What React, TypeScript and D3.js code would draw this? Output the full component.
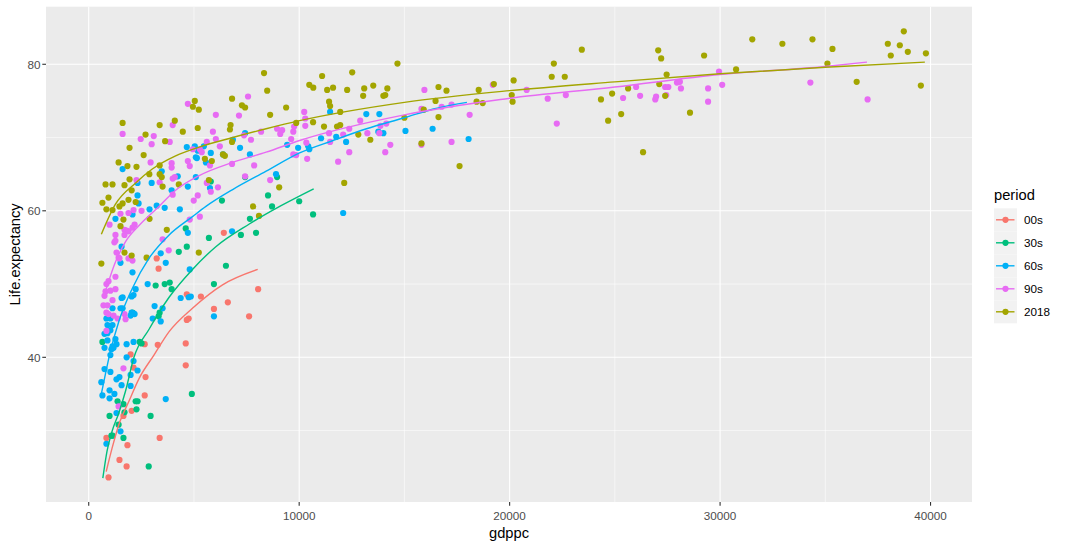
import * as d3 from "d3";

// period order as it is shown in the legend
const periods = ["00s", "30s", "60s", "90s", "2018"];
const periodColors = ["#F8766D", "#00BF7D", "#00B0F6", "#E76BF3", "#A3A500"];

// [gdppc, Life.expectancy]
const pts00s: [number, number][] = [
  [6420, 57.0], [3230, 53.5], [3320, 52.1], [4660, 48.6], [5330, 48.3], [6610, 47.5], [8050, 49.3],
  [5950, 46.6], [7620, 45.6], [4660, 45.1], [4750, 45.3], [4610, 41.9], [3280, 41.7], [2660, 41.8],
  [1990, 40.4], [4610, 38.9], [2130, 38.6], [2700, 37.3], [2660, 34.8], [2040, 32.7], [1650, 32.0],
  [840, 29.0], [3370, 29.0], [1840, 28.0], [1460, 26.0], [1800, 25.1], [940, 23.6],
];

const pts30s: [number, number][] = [
  [7430, 64.6], [8950, 64.6], [5800, 64.0], [6330, 61.4], [8520, 62.1], [8710, 60.6], [10000, 61.3],
  [7660, 58.9], [7230, 56.7], [7950, 57.0], [5710, 56.3], [4610, 57.6], [4660, 55.1], [4280, 54.4],
  [6520, 52.5], [5950, 50.0], [3850, 50.2], [3610, 50.0], [3180, 49.8], [3940, 49.3], [2080, 46.1],
  [3370, 46.1], [3320, 45.6], [650, 42.1], [2420, 42.1], [2510, 41.9], [4900, 35.0], [1370, 34.0],
  [1650, 33.6], [2230, 34.0], [2320, 34.0], [2270, 32.9], [2940, 32.0], [990, 32.0], [1700, 32.5],
  [1080, 29.3], [1130, 29.3], [1650, 29.0], [2850, 25.1], [1420, 30.8], [10660, 59.5],
];

const pts60s: [number, number][] = [
  [4660, 68.7], [5040, 68.8], [5180, 68.2], [5470, 68.8], [6850, 69.7], [7190, 68.6], [7430, 70.6],
  [7660, 67.7], [6380, 67.7], [5800, 67.9], [5090, 67.3], [5140, 67.2], [5570, 66.6], [1610, 65.7],
  [3470, 65.4], [4230, 64.7], [5090, 64.6], [2320, 63.8], [2990, 63.8], [4710, 63.3], [5760, 63.1],
  [3940, 62.8], [2320, 62.1], [2370, 61.0], [3230, 60.7], [3610, 60.4], [4330, 60.2], [2890, 60.2],
  [8900, 65.0], [9430, 69.0], [9950, 68.6], [10430, 68.8], [10480, 68.4],
  [1270, 58.9], [2080, 59.5], [4710, 57.0], [6810, 57.2], [1560, 55.1], [3420, 54.2], [1510, 52.9],
  [3660, 52.9], [2080, 51.6], [2800, 50.0], [4800, 52.0], [2230, 49.3], [1560, 48.1], [1610, 48.2],
  [2040, 48.3], [2130, 48.5], [1130, 46.7], [1510, 46.7], [1610, 46.7], [3130, 47.0], [3510, 46.7],
  [4370, 48.1], [4750, 48.2], [4850, 48.3], [2040, 46.1], [2130, 46.0], [1990, 45.7], [2180, 45.9],
  [3040, 45.3], [3420, 44.9], [5950, 45.6], [1030, 45.3], [840, 45.3], [890, 44.4], [1130, 44.4],
  [1030, 43.7], [750, 43.2], [890, 43.3], [1270, 42.5], [1320, 41.8], [890, 42.3], [1130, 41.5],
  [1180, 41.3], [1080, 41.1], [750, 41.3], [1800, 41.8], [2130, 42.1], [1030, 40.3], [1800, 40.0],
  [2130, 39.5], [750, 38.4], [1030, 38.0], [2320, 38.2], [1990, 37.6], [1320, 37.0], [1460, 37.3],
  [600, 36.6], [1560, 36.2], [1990, 36.1], [990, 35.5], [1220, 35.0], [650, 34.8], [990, 34.4],
  [3660, 34.3], [1320, 32.4], [1510, 29.9], [840, 28.2],
  [11470, 73.5], [13190, 73.2], [13810, 73.2], [11040, 69.9], [11760, 70.1], [12230, 69.4],
  [13760, 70.8], [14000, 70.6], [15050, 70.9], [16340, 71.2], [18050, 69.8], [12090, 59.7],
];

const pts90s: [number, number][] = [
  [7570, 75.6], [4710, 74.6], [6040, 73.1], [7140, 73.0], [3990, 71.7], [1610, 70.5], [3090, 70.2],
  [2470, 69.8], [2990, 69.1], [3850, 69.4], [5900, 70.8], [6040, 69.8], [6230, 68.8], [7380, 70.3],
  [7710, 69.7], [8190, 70.8], [8950, 71.2], [9190, 71.0], [9100, 70.5], [9620, 69.8], [9720, 70.8],
  [9760, 71.5], [10240, 73.5], [10290, 71.6], [10290, 72.6], [10340, 69.3], [10380, 67.1], [9720, 67.7],
  [9860, 67.6], [2940, 66.6], [3940, 66.5], [3940, 65.9], [4710, 66.8], [4800, 66.1], [5370, 68.0],
  [5280, 68.4], [5610, 69.4], [4950, 68.4], [5760, 66.2], [6810, 66.4], [7860, 66.2], [2270, 64.2],
  [3370, 63.9], [4090, 64.6], [3990, 64.4], [5610, 63.8], [5180, 62.1], [4990, 61.4], [5800, 62.6],
  [6140, 63.2], [3990, 62.2], [7430, 64.7], [8620, 64.2], [2130, 60.1], [2510, 60.0],
  [1890, 59.7], [1510, 59.6], [990, 58.1], [1700, 57.4], [1800, 57.3], [1890, 57.2], [2180, 58.1],
  [2080, 57.7], [1700, 56.7], [1270, 56.7], [1220, 55.7], [1270, 55.9], [1320, 54.3], [1420, 53.6],
  [1460, 53.5], [1890, 53.5], [2080, 53.2], [3510, 56.1], [3800, 54.6], [4800, 58.8], [5280, 59.2],
  [1270, 51.0], [940, 50.4], [840, 50.0], [800, 49.0], [750, 48.4], [1030, 49.1], [1270, 49.3],
  [1130, 47.8], [700, 47.1], [890, 47.1], [840, 46.1], [940, 45.9], [1180, 45.7], [1370, 45.3],
  [1700, 45.9], [1750, 45.2], [840, 43.6], [1650, 38.5], [1420, 33.3],
  [15950, 76.5], [15810, 73.9], [16770, 74.2], [17240, 74.5], [18100, 73.1], [19200, 77.2],
  [12900, 72.3], [14140, 71.9], [13860, 71.6], [13810, 70.6], [13240, 70.6], [12380, 71.2],
  [12090, 70.4], [11420, 70.6], [11470, 69.4], [12380, 68.0], [11850, 66.7], [14090, 68.0],
  [14330, 69.0], [15810, 69.0], [17240, 69.4],
  [20810, 76.5], [21810, 75.3], [22240, 71.9], [22670, 75.8], [25390, 75.4], [26010, 76.9],
  [26200, 75.7], [26920, 75.2], [26960, 75.6], [27390, 76.9], [27540, 76.9], [27440, 75.8],
  [27950, 77.5], [28090, 77.6], [28140, 76.7], [29430, 76.7], [29430, 74.9], [29950, 79.0],
  [30100, 77.2], [34290, 77.5], [37010, 75.2],
];

const pts2018: [number, number][] = [
  [8330, 78.8], [8480, 76.4], [6810, 75.3], [5040, 75.0], [4950, 74.2], [5230, 73.8], [7280, 74.4],
  [7430, 74.1], [9380, 74.1], [10480, 77.2], [10670, 76.8], [8620, 73.1], [1610, 72.0], [3370, 71.7],
  [4090, 72.3], [4470, 70.8], [5180, 71.3], [6740, 71.7], [6710, 71.1], [2700, 70.4], [3630, 69.5],
  [6810, 69.4], [1940, 68.6], [2610, 67.6], [1420, 66.6], [1840, 66.1], [2270, 66.0], [3370, 66.2],
  [5520, 67.1], [5850, 66.8], [6380, 67.7], [6470, 67.5], [2880, 65.0], [3370, 65.0], [3470, 64.6],
  [1940, 64.3], [2040, 62.8], [1700, 63.5], [800, 63.6], [1130, 63.6], [3510, 63.3], [4280, 63.6],
  [5710, 64.2], [9050, 63.2], [940, 61.8], [650, 61.1], [1610, 61.0], [1890, 61.5], [2230, 61.2],
  [1460, 60.6], [840, 60.2], [1130, 60.1], [7810, 60.6], [9860, 72.0],
  [1650, 58.8], [1510, 57.9], [2890, 58.9], [3710, 57.4], [2040, 53.9], [1700, 54.3], [2750, 53.6],
  [600, 52.8], [5230, 54.3], [8090, 59.3],
  [14670, 80.1], [11090, 78.4], [12520, 78.9], [11330, 76.5], [11610, 76.8], [12280, 76.5],
  [13090, 76.7], [13520, 77.1], [14190, 76.7], [13040, 75.7], [14000, 75.7], [14090, 75.8],
  [11420, 74.9], [11470, 74.3], [11950, 73.5], [10660, 72.1], [11180, 71.5], [11800, 71.5],
  [11950, 71.7], [12810, 70.4], [13380, 69.7], [12140, 63.8], [15810, 69.2], [16620, 76.9],
  [17000, 76.4], [16480, 75.0], [16620, 72.8], [15920, 73.8], [17620, 66.1], [18530, 76.5],
  [18430, 74.9], [18720, 74.7], [19250, 77.3], [15000, 72.7],
  [23430, 82.0], [22100, 80.1], [22000, 78.3], [22620, 78.3], [20190, 77.8], [20100, 75.8],
  [20140, 74.9], [24340, 75.2], [24870, 76.0], [25630, 76.7], [24680, 72.3], [25300, 73.2],
  [26340, 68.0], [27060, 81.9], [27200, 80.8], [27460, 78.6], [27110, 77.3], [27390, 75.7],
  [31530, 83.4], [32960, 82.8], [34390, 83.4], [35340, 82.1], [29240, 81.2], [28570, 73.4],
  [30760, 79.3], [36490, 77.6], [37970, 82.8], [38110, 81.2], [38540, 82.6], [38730, 84.5],
  [38920, 81.7], [39540, 77.1], [39780, 81.5], [35100, 80.1],
];

// smoothed trend lines
const fit00s: [number, number][] = [
  [830, 24.4], [1110, 27.6], [1430, 30.8], [1910, 34.0], [2390, 37.1], [3100, 40.3],
  [3820, 43.5], [4930, 46.7], [6360, 49.9], [8030, 52.0],
];
const fit30s: [number, number][] = [
  [670, 23.5], [870, 27.2], [1110, 29.9], [1430, 32.4], [1750, 35.4], [2150, 40.0],
  [2860, 43.8], [3820, 48.2], [4930, 52.0], [6040, 55.1], [7630, 58.2], [9140, 60.7], [10690, 63.0],
];
const fit60s: [number, number][] = [
  [600, 35.0], [800, 37.8], [1030, 40.8], [1430, 44.9], [2070, 49.4], [2860, 53.5],
  [3820, 56.7], [4930, 59.2], [5570, 60.6], [6840, 62.9], [8430, 65.4], [10020, 67.9],
  [11610, 69.6], [13200, 71.2], [15000, 72.7], [16380, 73.9], [17970, 74.8],
];
const fit90s: [number, number][] = [
  [700, 48.1], [1270, 53.0], [1750, 55.8], [2390, 58.0], [3340, 60.6], [4130, 62.8],
  [5250, 64.8], [6840, 66.6], [8430, 68.0], [10020, 69.6], [15000, 73.1], [19560, 75.2],
  [25000, 76.9], [30000, 78.6], [35000, 79.7], [36980, 80.3],
];
const fit2018: [number, number][] = [
  [600, 56.8], [1270, 60.9], [2230, 63.8], [3020, 65.7], [4130, 67.5], [5250, 68.7],
  [6840, 70.0], [8430, 71.2], [10020, 72.3], [15000, 74.8], [20000, 76.4], [25000, 77.6],
  [30000, 78.7], [35000, 79.6], [39730, 80.3],
];

const xMajor = [0, 10000, 20000, 30000, 40000];
const xMinor = [5000, 15000, 25000, 35000];
const yMajor = [40, 60, 80];
const yMinor = [30, 50, 70];

const seriesPoints = [pts00s, pts30s, pts60s, pts90s, pts2018];
const seriesFits = [fit00s, fit30s, fit60s, fit90s, fit2018];

export default function App() {
  const width = 1067;
  const height = 548;
  const panel = { left: 46, right: 972, top: 6.7, bottom: 502 };

  const x = d3.scaleLinear().domain([-2030, 41970]).range([panel.left, panel.right]);
  const y = d3.scaleLinear().domain([20.25, 87.86]).range([panel.bottom, panel.top]);

  const line = d3.line<[number, number]>()
    .x(d => x(d[0]))
    .y(d => y(d[1]))
    .curve(d3.curveMonotoneX);

  const font = "'Liberation Sans', Arial, sans-serif";
  const legendX = 994;
  const keyTop = 208.3;
  const keyH = 23;

  return (
    <svg
      width={width}
      height={height}
      style={{ position: "absolute", left: 0, top: 0, background: "#fff" }}
      fontFamily={font}
    >
      <rect x={panel.left} y={panel.top} width={panel.right - panel.left}
        height={panel.bottom - panel.top} fill="#EBEBEB" />

      {/* grid */}
      {xMinor.map(v => (
        <line key={"xm" + v} x1={x(v)} x2={x(v)} y1={panel.top} y2={panel.bottom}
          stroke="#fff" strokeWidth={0.55} />
      ))}
      {yMinor.map(v => (
        <line key={"ym" + v} x1={panel.left} x2={panel.right} y1={y(v)} y2={y(v)}
          stroke="#fff" strokeWidth={0.55} />
      ))}
      {xMajor.map(v => (
        <line key={"xM" + v} x1={x(v)} x2={x(v)} y1={panel.top} y2={panel.bottom}
          stroke="#fff" strokeWidth={1.1} />
      ))}
      {yMajor.map(v => (
        <line key={"yM" + v} x1={panel.left} x2={panel.right} y1={y(v)} y2={y(v)}
          stroke="#fff" strokeWidth={1.1} />
      ))}

      {/* points */}
      {seriesPoints.map((pts, i) => (
        <g key={"p" + i} fill={periodColors[i]}>
          {pts.map((d, j) => (
            <circle key={j} cx={x(d[0])} cy={y(d[1])} r={3.1} />
          ))}
        </g>
      ))}

      {/* trend lines */}
      {seriesFits.map((f, i) => (
        <path key={"l" + i} d={line(f) ?? ""} fill="none" stroke={periodColors[i]}
          strokeWidth={1.4} />
      ))}

      {/* axes */}
      {xMajor.map(v => (
        <g key={"xt" + v}>
          <line x1={x(v)} x2={x(v)} y1={panel.bottom} y2={panel.bottom + 3.7} stroke="#333" strokeWidth={1.1} />
          <text x={x(v)} y={panel.bottom + 15} textAnchor="middle" dominantBaseline="middle"
            fontSize={11.7} fill="#4D4D4D">{v}</text>
        </g>
      ))}
      {yMajor.map(v => (
        <g key={"yt" + v}>
          <line x1={panel.left - 3.7} x2={panel.left} y1={y(v)} y2={y(v)} stroke="#333" strokeWidth={1.1} />
          <text x={panel.left - 5.5} y={y(v)} textAnchor="end" dominantBaseline="central"
            fontSize={11.7} fill="#4D4D4D">{v}</text>
        </g>
      ))}
      <text x={(panel.left + panel.right) / 2} y={534} textAnchor="middle"
        dominantBaseline="middle" fontSize={14.7} fill="#000">gdppc</text>
      <text transform={`translate(16,${(panel.top + panel.bottom) / 2}) rotate(-90)`}
        textAnchor="middle" dominantBaseline="middle" fontSize={14.7} fill="#000">Life.expectancy</text>

      {/* legend */}
      <text x={legendX} y={196} dominantBaseline="middle" fontSize={14.7} fill="#000">period</text>
      {periods.map((p, i) => {
        const cy = keyTop + keyH * i + keyH / 2;
        return (
          <g key={"lg" + p}>
            <rect x={legendX} y={keyTop + keyH * i} width={23} height={keyH} fill="#F2F2F2" />
            <line x1={legendX + 2} x2={legendX + 20.5} y1={cy} y2={cy}
              stroke={periodColors[i]} strokeWidth={1.4} />
            <circle cx={legendX + 11.5} cy={cy} r={3.1} fill={periodColors[i]} />
            <text x={1024} y={cy} dominantBaseline="central" fontSize={11.7} fill="#000">{p}</text>
          </g>
        );
      })}
    </svg>
  );
}
